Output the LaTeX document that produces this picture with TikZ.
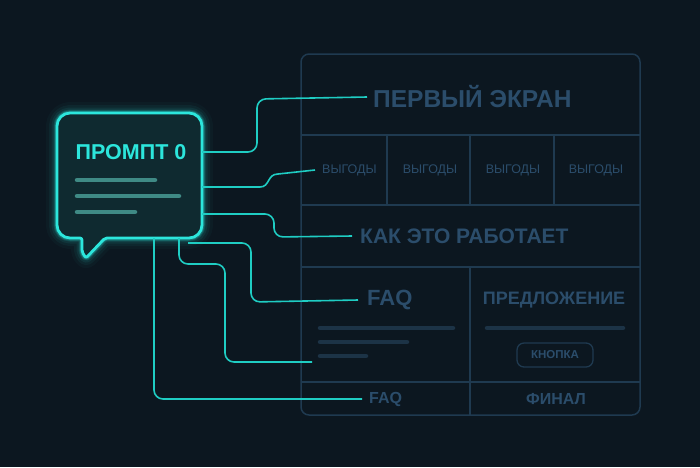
\documentclass[tikz,border=0pt]{standalone}
\usepackage{fontspec}
\setmainfont{Liberation Sans}
\usetikzlibrary{calc}
\definecolor{bgc}{HTML}{0C1720}
\definecolor{cyanb}{HTML}{2CE6DC}
\definecolor{cyanl}{HTML}{1FCDC3}
\definecolor{bubfill}{HTML}{0F2A30}
\definecolor{bubbar}{HTML}{3F8A85}
\definecolor{framec}{HTML}{1F3A50}
\definecolor{txtc}{HTML}{2B4D6B}
\definecolor{barc}{HTML}{1C3346}
\tikzset{
  framelin/.style={draw=framec, line width=1.5pt},
  conn/.style={draw=cyanl, line width=1.6pt, rounded corners=9pt},
  pagetxt/.style={text=txtc, inner sep=0pt, font=\bfseries},
  bubbar/.style={draw=bubbar, line width=4.5pt, line cap=round},
  pagebar/.style={draw=barc, line width=4.5pt, line cap=round},
}
\begin{document}
\begin{tikzpicture}[x=1pt,y=-1pt]
\fill[bgc] (0,0) rectangle (700,467);
\useasboundingbox (0,0) rectangle (700,467);
% page frame
\draw[framelin, rounded corners=8pt] (301,54) rectangle (640,415);
\draw[framelin] (301,135) -- (640,135);
\draw[framelin] (301,205) -- (640,205);
\draw[framelin] (301,267) -- (640,267);
\draw[framelin] (301,382) -- (640,382);
\draw[framelin] (387,135) -- (387,205);
\draw[framelin] (470,135) -- (470,205);
\draw[framelin] (554,135) -- (554,205);
\draw[framelin] (470,267) -- (470,415);
% page texts
\node[pagetxt, anchor=west, font=\fontsize{24.5}{28}\selectfont\bfseries] (hero) at (373,97) {ПЕРВЫЙ ЭКРАН};
\node[pagetxt, anchor=west, font=\fontsize{12.5}{16}\selectfont] (ben1) at (322,170) {ВЫГОДЫ};
\node[pagetxt, font=\fontsize{12.5}{16}\selectfont] (ben2) at (430,170) {ВЫГОДЫ};
\node[pagetxt, font=\fontsize{12.5}{16}\selectfont] (ben3) at (513,170) {ВЫГОДЫ};
\node[pagetxt, font=\fontsize{12.5}{16}\selectfont] (ben4) at (596,170) {ВЫГОДЫ};
\node[pagetxt, anchor=west, font=\fontsize{21}{26}\selectfont\bfseries] (how) at (360,236) {КАК ЭТО РАБОТАЕТ};
\node[pagetxt, anchor=west, font=\fontsize{22}{26}\selectfont\bfseries] (faq) at (367,300) {FAQ};
\node[pagetxt, font=\fontsize{18}{24}\selectfont\bfseries] (offer) at (554,300) {ПРЕДЛОЖЕНИЕ};
\node[pagetxt, anchor=west, font=\fontsize{16}{20}\selectfont\bfseries] (faq2) at (369,399) {FAQ};
\node[pagetxt, font=\fontsize{16}{20}\selectfont\bfseries] (final) at (556,399) {ФИНАЛ};
% bars
\draw[pagebar] (320,328) -- (453,328);
\draw[pagebar] (320,342) -- (407,342);
\draw[pagebar] (320,356) -- (366,356);
\draw[pagebar] (487,328) -- (623,328);
\node[draw=framec, line width=1.3pt, rounded corners=7pt, minimum width=76pt, minimum height=24pt, inner sep=0pt, text=txtc, font=\fontsize{11.5}{13}\selectfont\bfseries] (btn) at (555,355) {КНОПКА};
% bubble
\def\bubblepath{(82,238) [rounded corners=13pt] -- (57,238) -- (57,113) -- (202,113) -- (202,238) [rounded corners=2pt] -- (105,238) -- (86,258) -- (82,252) -- cycle}
\foreach \w/\o in {22/0.03,16/0.05,11/0.08,7/0.14,5/0.25}{
  \draw[cyanb, line width=\w pt, opacity=\o, line join=round] \bubblepath;
}
\fill[bubfill] \bubblepath;
\draw[cyanb, line width=2.8pt, line join=round] \bubblepath;
\node[draw=none, minimum width=145pt, minimum height=125pt, inner sep=0pt] (bubble) at (129.5,175.5) {};
\node[text=cyanb, inner sep=0pt, font=\fontsize{21.5}{24}\selectfont\bfseries] (ptitle) at (131,152) {ПРОМПТ 0};
\draw[bubbar] (77,180) -- (155,180);
\draw[bubbar] (77,196) -- (179,196);
\draw[bubbar] (77,212) -- (135,212);
% connectors
\coordinate (barsend) at (312,362);
\draw[conn] (bubble.east |- 0,152) -- (257,152) -- (257,99) -- ([xshift=-6pt]hero.west);
\draw[draw=cyanl, line width=1.6pt] (bubble.east |- 0,187) -- (260,187) .. controls (270,187) and (267,174) .. (278,174) -- ([xshift=-7pt]ben1.west);
\draw[conn] (bubble.east |- 0,214) -- (274,214) -- (274,237) -- ([xshift=-8pt]how.west);
\draw[conn] (188,243) -- (251,243) -- (251,302) -- ([xshift=-9pt]faq.west);
\draw[conn] (bubble.south -| 179,0) -- (179,264) -- (225,264) -- (225,362) -- (barsend);
\draw[conn] (bubble.south -| 154,0) -- (154,399) -- ([xshift=-7pt]faq2.west);
\end{tikzpicture}
\end{document}
